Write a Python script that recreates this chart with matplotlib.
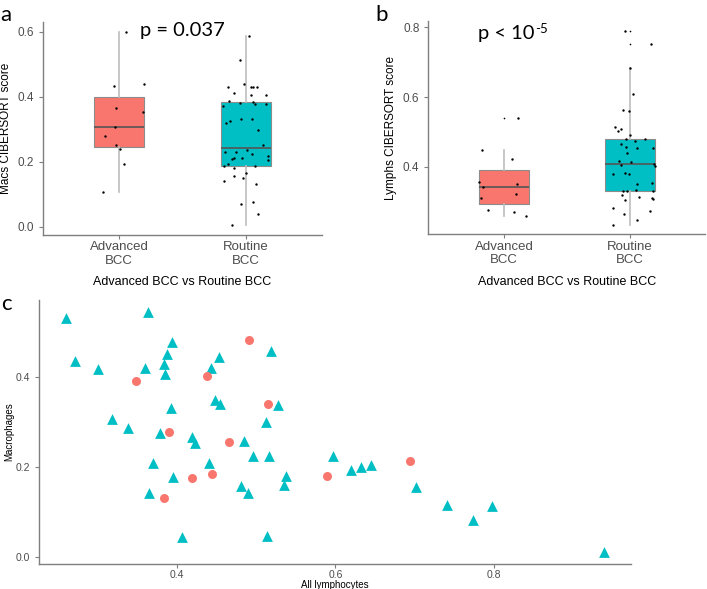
import numpy as np
import matplotlib
matplotlib.use('Agg')
import matplotlib.pyplot as plt

RED = '#F8766D'
TEAL = '#00BFC4'
AXCOL = '#7F7F7F'
TICKCOL = '#4D4D4D'

groups = ['Advanced\nBCC', 'Routine\nBCC']

# panel a: macrophage scores (value, jitter offset)
macs_adv = [0.600, 0.432, 0.439, 0.365, 0.353, 0.306, 0.280, 0.251, 0.240, 0.194, 0.105]
macs_adv_jit = [0.052, -0.039, 0.195, -0.028, 0.190, -0.036, -0.110, -0.028, 0.008, 0.039, -0.125]
macs_rout = [0.587, 0.511, 0.439, 0.428, 0.428, 0.429, 0.428, 0.411, 0.404, 0.404,
             0.386, 0.380, 0.384, 0.376, 0.377, 0.372, 0.326, 0.319, 0.332, 0.330,
             0.297, 0.250, 0.229, 0.228, 0.223, 0.217, 0.211, 0.207, 0.211, 0.205,
             0.192, 0.186, 0.186, 0.179, 0.165, 0.155, 0.149, 0.141, 0.130, 0.070,
             0.077, 0.039, 0.004, 0.235]
macs_rout_jit = [0.023, -0.045, -0.013, -0.141, 0.044, 0.059, 0.091, -0.097, 0.039, 0.159,
                 -0.133, -0.050, 0.055, 0.075, 0.159, -0.180, -0.123, -0.154, -0.039, 0.049,
                 0.096, 0.133, -0.164, -0.076, 0.049, 0.174, -0.091, -0.107, -0.034, 0.174,
                 -0.138, -0.170, 0.075, -0.097, 0.002, -0.091, -0.023, -0.170, 0.080, -0.039,
                 0.059, 0.096, -0.113, 0.010]

# panel b: lymphocyte scores
lym_adv = [0.541, 0.449, 0.422, 0.358, 0.342, 0.350, 0.323, 0.310, 0.278, 0.271, 0.261]
lym_adv_jit = [0.111, -0.174, 0.063, -0.198, -0.163, 0.103, 0.095, -0.182, -0.128, 0.079, 0.174]
lym_rout = [0.788, 0.751, 0.683, 0.608, 0.564, 0.559, 0.514, 0.504, 0.508, 0.491,
            0.481, 0.479, 0.473, 0.466, 0.458, 0.454, 0.454, 0.439, 0.416, 0.406,
            0.414, 0.409, 0.404, 0.381, 0.383, 0.381, 0.355, 0.350, 0.335, 0.331,
            0.330, 0.331, 0.321, 0.315, 0.306, 0.311, 0.309, 0.283, 0.275, 0.264,
            0.247, 0.235]
lym_rout_jit = [-0.042, 0.170, 0.000, 0.027, -0.053, -0.011, -0.122, -0.095, -0.074, 0.000,
                -0.032, 0.117, 0.037, -0.069, -0.032, 0.053, 0.185, -0.026, -0.085, -0.074,
                0.005, 0.191, 0.201, -0.137, -0.042, -0.005, 0.175, 0.053, 0.048, -0.058,
                -0.021, 0.180, -0.064, 0.069, -0.042, 0.175, 0.185, -0.138, 0.159, -0.048,
                0.053, -0.137]

# panel c: all lymphocytes vs macrophages
adv_lym = [0.491, 0.348, 0.438, 0.515, 0.390, 0.465, 0.419, 0.444, 0.383, 0.589, 0.694]
adv_mac = [0.484, 0.391, 0.402, 0.341, 0.279, 0.255, 0.175, 0.185, 0.132, 0.181, 0.213]
rout_lym = [0.260, 0.363, 0.271, 0.300, 0.359, 0.394, 0.387, 0.384, 0.385, 0.453,
            0.443, 0.519, 0.448, 0.454, 0.392, 0.527, 0.318, 0.338, 0.379, 0.512,
            0.419, 0.423, 0.484, 0.496, 0.516, 0.597, 0.370, 0.440, 0.395, 0.537,
            0.535, 0.481, 0.490, 0.364, 0.406, 0.513, 0.620, 0.632, 0.645, 0.702,
            0.741, 0.774, 0.798, 0.939]
rout_mac = [0.531, 0.545, 0.437, 0.419, 0.420, 0.478, 0.451, 0.430, 0.407, 0.445,
            0.420, 0.458, 0.350, 0.340, 0.332, 0.339, 0.307, 0.286, 0.276, 0.301,
            0.267, 0.253, 0.259, 0.225, 0.225, 0.225, 0.208, 0.209, 0.177, 0.179,
            0.160, 0.158, 0.143, 0.143, 0.045, 0.047, 0.194, 0.201, 0.205, 0.156,
            0.116, 0.083, 0.114, 0.011]

plt.rcParams['font.family'] = ['Liberation Sans', 'DejaVu Sans']

fig = plt.figure(figsize=(7.07, 5.89), dpi=100)


def style_axes(ax, tick_size):
    for s in ['top', 'right']:
        ax.spines[s].set_visible(False)
    for s in ['left', 'bottom']:
        ax.spines[s].set_color(AXCOL)
        ax.spines[s].set_linewidth(1.0)
    ax.tick_params(colors=AXCOL, labelcolor=TICKCOL, labelsize=tick_size,
                   length=3, width=0.8)


def box_panel(ax, adv, adv_jit, rout, rout_jit, ylabel):
    ax.boxplot([adv, rout], positions=[1, 2], widths=0.4, patch_artist=True,
               whis=1.5,
               boxprops=dict(edgecolor='#8C8C8C', linewidth=0.8),
               medianprops=dict(color='#555555', linewidth=1.2),
               whiskerprops=dict(color='#BDBDBD', linewidth=1.2),
               capprops=dict(linewidth=0),
               flierprops=dict(marker='o', markersize=1.2, markerfacecolor='black',
                               markeredgecolor='black', markeredgewidth=0))
    ax.patches[0].set_facecolor(RED)
    ax.patches[1].set_facecolor(TEAL)
    ax.scatter(1 + np.array(adv_jit), adv, s=3, color='black', zorder=5, linewidths=0)
    ax.scatter(2 + np.array(rout_jit), rout, s=3, color='black', zorder=5, linewidths=0)
    ax.set_xlim(0.4, 2.6)
    ax.set_xticks([1, 2])
    ax.set_xticklabels(groups, fontsize=9.5, linespacing=1.15)
    ax.set_ylabel(ylabel, fontsize=8.5, labelpad=4)
    ax.set_xlabel('Advanced BCC vs Routine BCC', fontsize=9, labelpad=7)
    style_axes(ax, 8.5)
    ax.tick_params(axis='x', labelsize=9.5, pad=1.5)


# panel a
ax1 = fig.add_axes([0.0608, 0.601, 0.3946, 0.362])
box_panel(ax1, macs_adv, macs_adv_jit, macs_rout, macs_rout_jit, 'Macs CIBERSORT score')
ax1.set_ylim(-0.026, 0.63)
ax1.set_yticks([0.0, 0.2, 0.4, 0.6])
ax1.set_yticklabels(['0.0', '0.2', '0.4', '0.6'])
ax1.text(0.50, 1.0, 'p = 0.037', transform=ax1.transAxes, fontsize=14.5,
         family='Lato', ha='center', va='top')

# panel b
ax2 = fig.add_axes([0.606, 0.602, 0.3918, 0.3615])
box_panel(ax2, lym_adv, lym_adv_jit, lym_rout, lym_rout_jit, 'Lymphs CIBERSORT score')
ax2.set_ylim(0.207, 0.816)
ax2.set_yticks([0.4, 0.6, 0.8])
ax2.set_yticklabels(['0.4', '0.6', '0.8'])
pt = ax2.text(0.18, 0.985, 'p < 10', transform=ax2.transAxes,
              fontsize=14.5, family='Lato', ha='left', va='top')
ax2.annotate('-5', xy=(1.0, 1.0), xycoords=pt, fontsize=9.5, family='Lato',
             ha='left', va='top', xytext=(0.5, 1.5), textcoords='offset points')

# panel c
ax3 = fig.add_axes([0.0556, 0.0425, 0.8365, 0.448])
ax3.scatter(rout_lym, rout_mac, marker='^', s=60, color=TEAL, linewidths=0, zorder=3)
ax3.scatter(adv_lym, adv_mac, marker='o', s=42, color=RED, linewidths=0, zorder=3)
ax3.set_xlim(0.226, 0.973)
ax3.set_ylim(-0.016, 0.572)
ax3.set_xticks([0.4, 0.6, 0.8])
ax3.set_xticklabels(['0.4', '0.6', '0.8'])
ax3.set_yticks([0.0, 0.2, 0.4])
ax3.set_yticklabels(['0.0', '0.2', '0.4'])
style_axes(ax3, 7.5)
ax3.tick_params(axis='x', pad=1.5)
ax3.set_xlabel('All lymphocytes', fontsize=7, labelpad=0)
ax3.set_ylabel('Macrophages', fontsize=7, labelpad=1)

fig.text(0.001, 0.992, 'a', fontsize=16, family='Lato', ha='left', va='top')
fig.text(0.531, 0.992, 'b', fontsize=16, family='Lato', ha='left', va='top')
fig.text(0.001, 0.500, 'c', fontsize=16, family='Lato', ha='left', va='top')

fig.savefig('out.png', dpi=100)
